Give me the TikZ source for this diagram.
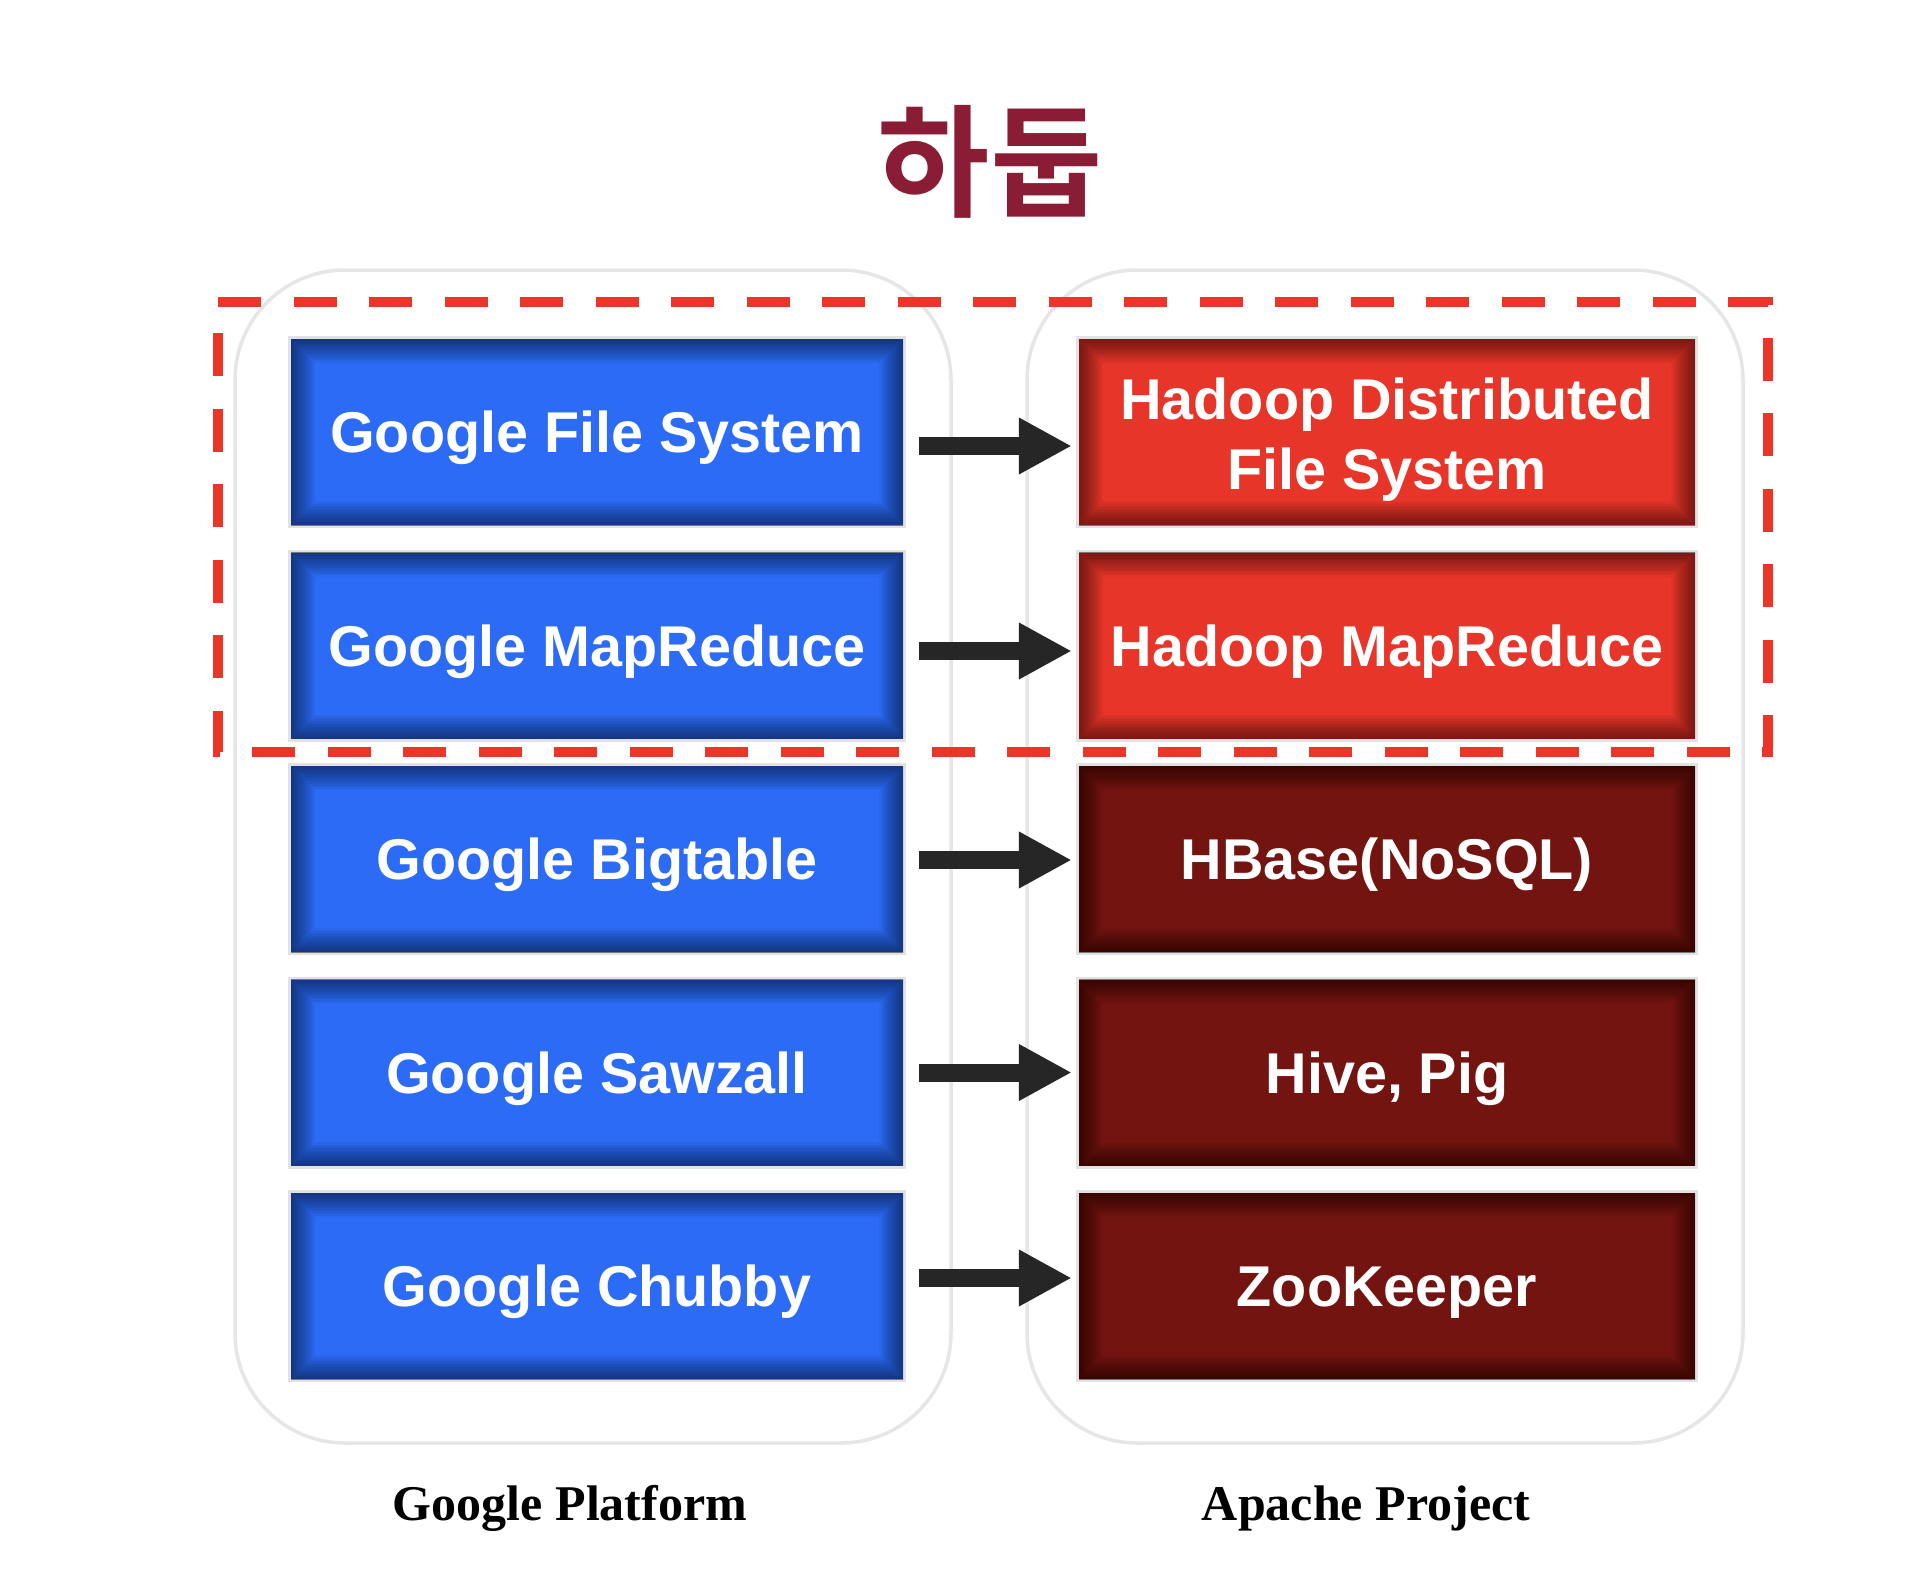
\documentclass[tikz,border=0pt]{standalone}
\usepackage{fontspec}
\setmainfont{Liberation Serif}
\newfontfamily\boxfont{Liberation Sans}
\newfontfamily\krfont{Noto Sans CJK KR}[BoldFont={* Bold}]
\usetikzlibrary{arrows.meta}
\definecolor{gblue}{HTML}{2C6BF6}
\definecolor{hred}{HTML}{E8352A}
\definecolor{dred}{HTML}{731410}
\definecolor{titlec}{HTML}{8B1C35}
\definecolor{framec}{HTML}{E6E6E6}
\definecolor{borderc}{HTML}{E2E2E2}
\definecolor{dashc}{HTML}{EA3628}
\definecolor{arrc}{HTML}{262626}
\begin{document}
\begin{tikzpicture}[x=1pt,y=-1pt,
  card/.style={rectangle, minimum height=186pt, inner sep=0pt,
    preaction={draw=borderc,line width=6pt},
    path picture={\foreach \w in {3,6,...,48}{\draw[black,opacity=0.035,line width=\w pt](path picture bounding box.south west) rectangle (path picture bounding box.north east);}}},
  gcard/.style={card, fill=gblue, minimum width=612pt},
  hcard/.style={card, fill=hred, minimum width=616pt},
  dcard/.style={card, fill=dred, minimum width=616pt},
  lab/.style={text=white, font=\boxfont\bfseries\fontsize{57.5}{69}\selectfont, text height=41.2pt, text depth=0pt, inner sep=0pt},
  arr/.style={draw=arrc, line width=18pt, -{Triangle[length=53pt,width=53pt]}},
  frame/.style={draw=framec, line width=3.5pt, rounded corners=110pt},
  caption/.style={font=\bfseries\fontsize{50}{60}\selectfont, anchor=base, inner sep=0pt},
]
\useasboundingbox (0,0) rectangle (1928,1590);
\fill[white] (0,0) rectangle (1928,1590);

\node[text=titlec, font=\krfont\bfseries\fontsize{122}{130}\selectfont, inner sep=0pt] (title) at (990,161.5) {하둡};

\draw[frame] (235,270) rectangle (951,1443);
\draw[frame] (1027,270) rectangle (1743,1443);

\draw[dashc, line width=10pt, dash pattern=on 43pt off 32.5pt] (218,302) -- (1768,302) -- (1768,752) -- (218,752) -- cycle;

\node[gcard] (g1) at (597,432) {};
\node[gcard] (g2) at (597,645.5) {};
\node[gcard] (g3) at (597,859) {};
\node[gcard] (g4) at (597,1072.5) {};
\node[gcard] (g5) at (597,1286) {};

\node[hcard] (h1) at (1387,432) {};
\node[hcard] (h2) at (1387,645.5) {};
\node[dcard] (h3) at (1387,859) {};
\node[dcard] (h4) at (1387,1072.5) {};
\node[dcard] (h5) at (1387,1286) {};

\node[lab] (tg1) at (g1.center) {Google File System};
\node[lab] (tg2) at (g2.center) {Google MapReduce};
\node[lab] (tg3) at (g3.center) {Google Bigtable};
\node[lab] (tg4) at (g4.center) {Google Sawzall};
\node[lab] (tg5) at (g5.center) {Google Chubby};

\node[lab] (th1a) at ([yshift=33pt]h1.center) {Hadoop Distributed};
\node[lab] (th1b) at ([yshift=-36.5pt]h1.center) {File System};
\node[lab] (th2) at (h2.center) {Hadoop MapReduce};
\node[lab] (th3) at (h3.center) {HBase(NoSQL)};
\node[lab] (th4) at (h4.center) {Hive, Pig};
\node[lab] (th5) at (h5.center) {ZooKeeper};

\draw[arr] ([xshift=16pt,yshift=-14pt]g1.east) -- ([xshift=-7pt,yshift=-14pt]h1.west);
\draw[arr] ([xshift=16pt,yshift=-5.5pt]g2.east) -- ([xshift=-7pt,yshift=-5.5pt]h2.west);
\draw[arr] ([xshift=16pt,yshift=-1pt]g3.east) -- ([xshift=-7pt,yshift=-1pt]h3.west);
\draw[arr] ([xshift=16pt,yshift=0pt]g4.east) -- ([xshift=-7pt,yshift=0pt]h4.west);
\draw[arr] ([xshift=16pt,yshift=8pt]g5.east) -- ([xshift=-7pt,yshift=8pt]h5.west);

\node[caption] (gp) at (570,1520) {Google Platform};
\node[caption] (ap) at (1366,1520) {Apache Project};
\end{tikzpicture}
\end{document}
